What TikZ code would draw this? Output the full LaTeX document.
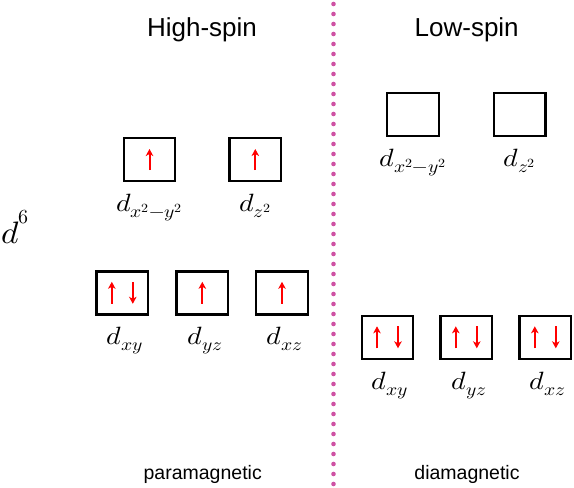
\documentclass[tikz,border=0pt]{standalone}
\usepackage{fontspec}
\usepackage{unicode-math}
\usepackage{graphicx}
\setmathfont{Latin Modern Math}
\newfontfamily\arial{Liberation Sans}
\usetikzlibrary{arrows.meta}
\definecolor{dotpink}{RGB}{206,82,164}
\newcommand{\orblabel}[1]{\scalebox{1.12}[1]{$#1$}}
\tikzset{
  orb/.style={draw=black, line width=2.4pt, minimum width=51.5pt, minimum height=43pt, inner sep=0pt},
  lbl/.style={anchor=base, inner sep=0pt, font=\fontsize{25}{29}\selectfont},
  spin/.style={draw=red, line width=2pt, -{Stealth[length=7pt,width=7.5pt,inset=2pt]}},
  title/.style={anchor=base, inner sep=0pt, font=\arial\fontsize{26}{30}\selectfont},
  magn/.style={anchor=base, inner sep=0pt, font=\arial\fontsize{19.5}{23}\selectfont},
}
\begin{document}
\begin{tikzpicture}[x=1pt, y=-1pt]
\useasboundingbox (0,0) rectangle (574,488);
% divider
\foreach \k in {0,...,48} {
  \fill[dotpink] (333.5, 4+10*\k) circle (2.3pt);
}
% titles
\node[title] (hs) at (202,36.7) {High-spin};
\node[title] (ls) at (466.7,36.7) {Low-spin};
\node[magn] (pm) at (202.7,479) {paramagnetic};
\node[magn] (dm) at (467,479) {diamagnetic};
\node[anchor=base west, inner sep=0pt, font=\fontsize{31}{36}\selectfont] (d6) at (1,243)
  {\scalebox{1.08}[1]{$d$}\kern-0.5pt\raisebox{19.5pt}{\fontsize{20}{24}\selectfont$6$}};
% high-spin boxes
\node[orb] (h1) at (149.5,159.5) {};
\node[orb] (h2) at (255.3,159.5) {};
\node[orb] (h3) at (122.3,292.8) {};
\node[orb] (h4) at (202.3,292.8) {};
\node[orb] (h5) at (282,292.8) {};
% low-spin boxes
\node[orb] (l1) at (413,114.5) {};
\node[orb] (l2) at (519.7,114.5) {};
\node[orb] (l3) at (387.5,337.3) {};
\node[orb] (l4) at (466.3,337.3) {};
\node[orb] (l5) at (545.3,337.3) {};
% labels
\node[lbl] (th1) at (149.5,211) {\orblabel{d_{x^2-y^2}}};
\node[lbl] (th2) at (255.3,211) {\orblabel{d_{z^2}}};
\node[lbl] (th3) at (125,344) {\orblabel{d_{xy}}};
\node[lbl] (th4) at (205,344) {\orblabel{d_{yz}}};
\node[lbl] (th5) at (285,344) {\orblabel{d_{xz}}};
\node[lbl] (tl1) at (413,166) {\orblabel{d_{x^2-y^2}}};
\node[lbl] (tl2) at (519.7,166) {\orblabel{d_{z^2}}};
\node[lbl] (tl3) at (390,389) {\orblabel{d_{xy}}};
\node[lbl] (tl4) at (469,389) {\orblabel{d_{yz}}};
\node[lbl] (tl5) at (548,389) {\orblabel{d_{xz}}};
% spins high-spin
\draw[spin] (h1.center) ++(0,10.5) -- ++(0,-21);
\draw[spin] (h2.center) ++(0,10.5) -- ++(0,-21);
\draw[spin] (h3.center) ++(-10.5,11) -- ++(0,-22);
\draw[spin] (h3.center) ++(10.5,-11) -- ++(0,22);
\draw[spin] (h4.center) ++(0,11) -- ++(0,-22);
\draw[spin] (h5.center) ++(0,11) -- ++(0,-22);
% spins low-spin
\foreach \b in {l3,l4,l5} {
  \draw[spin] (\b.center) ++(-10.5,11) -- ++(0,-22);
  \draw[spin] (\b.center) ++(10.5,-11) -- ++(0,22);
}
\end{tikzpicture}
\end{document}
